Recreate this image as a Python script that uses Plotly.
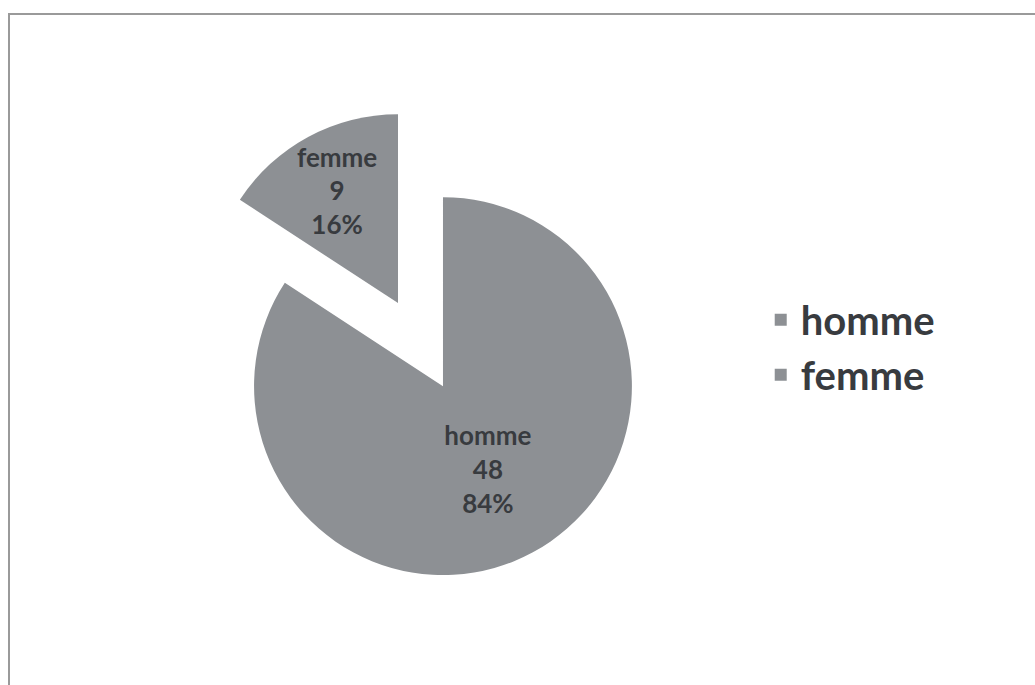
import plotly.graph_objects as go

# Répartition par sexe
categories = ["homme", "femme"]
counts = [48, 9]
pulls = [0, 0.5]

slice_color = "#8d9094"
text_color = "#383b3f"

fig = go.Figure(
    go.Pie(
        labels=categories,
        values=counts,
        pull=pulls,
        sort=False,
        direction="clockwise",
        rotation=0,
        marker=dict(colors=[slice_color, slice_color], line=dict(width=0)),
        texttemplate="%{label}<br>%{value}<br>%{percent:.0%}",
        textposition="inside",
        insidetextorientation="horizontal",
        textfont=dict(family="Lato", size=26, color=text_color, weight="bold"),
        domain=dict(x=[0.1541, 0.7019], y=[0.0226, 0.850]),
        hoverinfo="label+value+percent",
    )
)

fig.update_layout(
    width=1035,
    height=685,
    margin=dict(l=0, r=0, t=0, b=0),
    paper_bgcolor="white",
    plot_bgcolor="white",
    uniformtext=dict(minsize=26, mode="show"),
    showlegend=True,
    legend=dict(
        x=0.735,
        y=0.493,
        xanchor="left",
        yanchor="middle",
        font=dict(family="Lato", size=40, color=text_color, weight="bold"),
        bgcolor="rgba(0,0,0,0)",
    ),
    shapes=[
        dict(
            type="rect",
            xref="paper",
            yref="paper",
            x0=0.0087,
            x1=1.01,
            y0=-0.01,
            y1=0.9796,
            line=dict(color="#9a9a9a", width=2),
            fillcolor="rgba(0,0,0,0)",
            layer="below",
        )
    ],
)

fig.write_html("out.html")
